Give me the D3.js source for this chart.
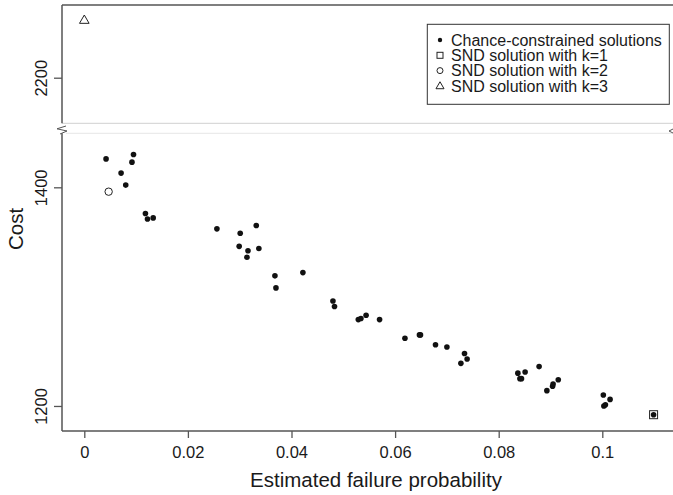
<!DOCTYPE html>
<html>
<head>
<meta charset="utf-8">
<script src="https://cdn.jsdelivr.net/npm/d3@7"></script>
<style>
  body { margin: 0; background: #fff; }
  text { font-family: "Liberation Sans", Arial, sans-serif; fill: #1a1a1a; }
</style>
</head>
<body>
<div id="vis"></div>
<script>
// data
const CC_X = [0.0042, 0.0095, 0.0092, 0.0071, 0.0080, 0.0118, 0.0122, 0.0133, 0.0256, 0.0332,
  0.0301, 0.0299, 0.0316, 0.0337, 0.0314, 0.0368, 0.0422, 0.0370, 0.0480, 0.0483,
  0.0529, 0.0534, 0.0544, 0.0570, 0.0619, 0.0647, 0.0649, 0.0678, 0.0700, 0.0734,
  0.0739, 0.0727, 0.0837, 0.0851, 0.0841, 0.0844, 0.0878, 0.0893, 0.0904, 0.0905,
  0.0915, 0.1002, 0.1015, 0.1003, 0.1006, 0.1099];
const CC_Y = [1426, 1430, 1423, 1413, 1402, 1376, 1371, 1372, 1362, 1365,
  1358, 1346, 1342, 1344, 1336, 1319, 1322, 1308, 1296, 1291,
  1279, 1280, 1283, 1279, 1262, 1265, 1265, 1256, 1254, 1248,
  1243, 1239, 1230, 1231, 1225, 1225, 1236, 1214, 1218, 1220,
  1224, 1210, 1206, 1200, 1201, 1192];
const SND_K1 = [0.1099, 1192];
const SND_K2 = [0.0047, 1396];
const SND_K3 = [0.0, 2253];
const X_TICKS = [0, 0.02, 0.04, 0.06, 0.08, 0.1];
const Y_TICKS_LOW = [1200, 1400];
const Y_TICKS_HIGH = [2200];
const LEGEND_LABELS = ["Chance-constrained solutions", "SND solution with k=1",
  "SND solution with k=2", "SND solution with k=3"];

const WIDTH = 673, HEIGHT = 495;
const LEFT = 62, RIGHT = 676;
const AXIS_COLOR = "#555";

const svg = d3.select("#vis").append("svg")
  .attr("width", WIDTH)
  .attr("height", HEIGHT);

// scales (lower and upper panel share the same px per unit)
const X = d3.scaleLinear().domain([0, 0.1]).range([84.3, 602.3]);
const Y_LOW = d3.scaleLinear().domain([1177.1, 1449.4]).range([431, 133.3]);
const Y_HIGH = d3.scaleLinear().domain([2158.3, 2266.5]).range([123.3, 5]);

// frame lines
svg.append("line").attr("x1", LEFT).attr("x2", RIGHT).attr("y1", 5).attr("y2", 5)
  .attr("stroke", AXIS_COLOR).attr("stroke-width", 1.5);
svg.append("line").attr("x1", LEFT).attr("x2", RIGHT).attr("y1", 123.3).attr("y2", 123.3)
  .attr("stroke", "#d0d0d0").attr("stroke-width", 1);
svg.append("line").attr("x1", LEFT + 4).attr("x2", RIGHT).attr("y1", 133.3).attr("y2", 133.3)
  .attr("stroke", "#e6e6e6").attr("stroke-width", 1);
svg.append("line").attr("x1", LEFT).attr("x2", RIGHT).attr("y1", 431).attr("y2", 431)
  .attr("stroke", AXIS_COLOR).attr("stroke-width", 1.5);

// break marks
svg.append("polyline")
  .attr("points", "66,126 57,128.8 67,131 60,134")
  .attr("fill", "none").attr("stroke", AXIS_COLOR).attr("stroke-width", 1);
svg.append("polyline")
  .attr("points", "673,129 669,131 673,133")
  .attr("fill", "none").attr("stroke", AXIS_COLOR).attr("stroke-width", 1);

// x axis
const xAxis = svg.append("g")
  .attr("transform", "translate(0,431)")
  .call(d3.axisBottom(X).tickValues(X_TICKS).tickSize(7).tickSizeOuter(0)
    .tickFormat(d => d === 0 ? "0" : String(+d.toFixed(2))));
xAxis.select(".domain").remove();
xAxis.selectAll("line").attr("stroke", AXIS_COLOR).attr("stroke-width", 1.3);
xAxis.selectAll("text")
  .attr("y", 27.3).attr("dy", null)
  .attr("font-size", "16.5px").attr("font-family", "Liberation Sans, Arial, sans-serif")
  .attr("fill", "#1a1a1a");

// y axes (two panels)
function yAxis(scale, ticks, y0, y1) {
  const g = svg.append("g")
    .attr("transform", "translate(" + LEFT + ",0)")
    .call(d3.axisLeft(scale).tickValues(ticks).tickSize(8).tickSizeOuter(0)
      .tickFormat(d3.format("d")));
  g.select(".domain").remove();
  g.append("line").attr("x1", 0).attr("x2", 0).attr("y1", y0).attr("y2", y1)
    .attr("stroke", AXIS_COLOR).attr("stroke-width", 1.5);
  g.selectAll(".tick line").attr("stroke", AXIS_COLOR).attr("stroke-width", 1.3);
  g.selectAll(".tick text")
    .attr("x", null).attr("dy", null)
    .attr("text-anchor", "middle")
    .attr("transform", "translate(-15.3,0) rotate(-90)")
    .attr("font-size", "16.5px").attr("font-family", "Liberation Sans, Arial, sans-serif")
    .attr("fill", "#1a1a1a");
}
yAxis(Y_HIGH, Y_TICKS_HIGH, 5, 123.3);
yAxis(Y_LOW, Y_TICKS_LOW, 133.3, 431);

// axis titles
svg.append("text")
  .attr("x", 376)
  .attr("y", 487)
  .attr("text-anchor", "middle")
  .attr("font-size", "20.5px")
  .text("Estimated failure probability");

svg.append("text")
  .attr("transform", "translate(22.5,229) rotate(-90)")
  .attr("text-anchor", "middle")
  .attr("font-size", "20.5px")
  .text("Cost");

// chance-constrained points
const pts = CC_X.map((x, i) => ({x: x, y: CC_Y[i]}));
svg.selectAll(".cc")
  .data(pts)
  .enter()
  .append("circle")
  .attr("class", "cc")
  .attr("cx", d => X(d.x))
  .attr("cy", d => Y_LOW(d.y))
  .attr("r", 2.8)
  .attr("fill", "#111");

// SND k=1 square
svg.append("rect")
  .attr("x", X(SND_K1[0]) - 4)
  .attr("y", Y_LOW(SND_K1[1]) - 4)
  .attr("width", 8).attr("height", 8)
  .attr("fill", "none").attr("stroke", "#222").attr("stroke-width", 1);

// SND k=2 circle
svg.append("circle")
  .attr("cx", X(SND_K2[0]))
  .attr("cy", Y_LOW(SND_K2[1]))
  .attr("r", 3.7)
  .attr("fill", "none").attr("stroke", "#222").attr("stroke-width", 1);

// SND k=3 triangle
const tri = d3.symbol().type(d3.symbolTriangle).size(40);
svg.append("path")
  .attr("d", tri())
  .attr("transform", "translate(" + X(SND_K3[0]) + "," + (Y_HIGH(SND_K3[1]) + 0.8) + ")")
  .attr("fill", "none").attr("stroke", "#222").attr("stroke-width", 1);

// legend
const LEG_X = 427.3, LEG_Y = 24.3;
svg.append("rect")
  .attr("x", LEG_X).attr("y", LEG_Y)
  .attr("width", 242).attr("height", 80)
  .attr("fill", "#fff").attr("stroke", "#333").attr("stroke-width", 1);

const legend = svg.selectAll(".leg")
  .data(LEGEND_LABELS)
  .enter()
  .append("g")
  .attr("class", "leg")
  .attr("transform", (d, i) => "translate(" + LEG_X + "," + (LEG_Y + 15.7 + i * 15.3) + ")");

legend.append("text")
  .attr("x", 23.7)
  .attr("y", 5.8)
  .attr("font-size", "16px")
  .text(d => d);

legend.filter((d, i) => i === 0).append("circle")
  .attr("cx", 12.7).attr("r", 2.2).attr("fill", "#111");
legend.filter((d, i) => i === 1).append("rect")
  .attr("x", 9.7).attr("y", -3).attr("width", 6).attr("height", 6)
  .attr("fill", "none").attr("stroke", "#222").attr("stroke-width", 1);
legend.filter((d, i) => i === 2).append("circle")
  .attr("cx", 12.7).attr("r", 3).attr("fill", "none").attr("stroke", "#222").attr("stroke-width", 1);
legend.filter((d, i) => i === 3).append("path")
  .attr("d", d3.symbol().type(d3.symbolTriangle).size(28)())
  .attr("transform", "translate(12.7,0.5)")
  .attr("fill", "none").attr("stroke", "#222").attr("stroke-width", 1);
</script>
</body>
</html>
